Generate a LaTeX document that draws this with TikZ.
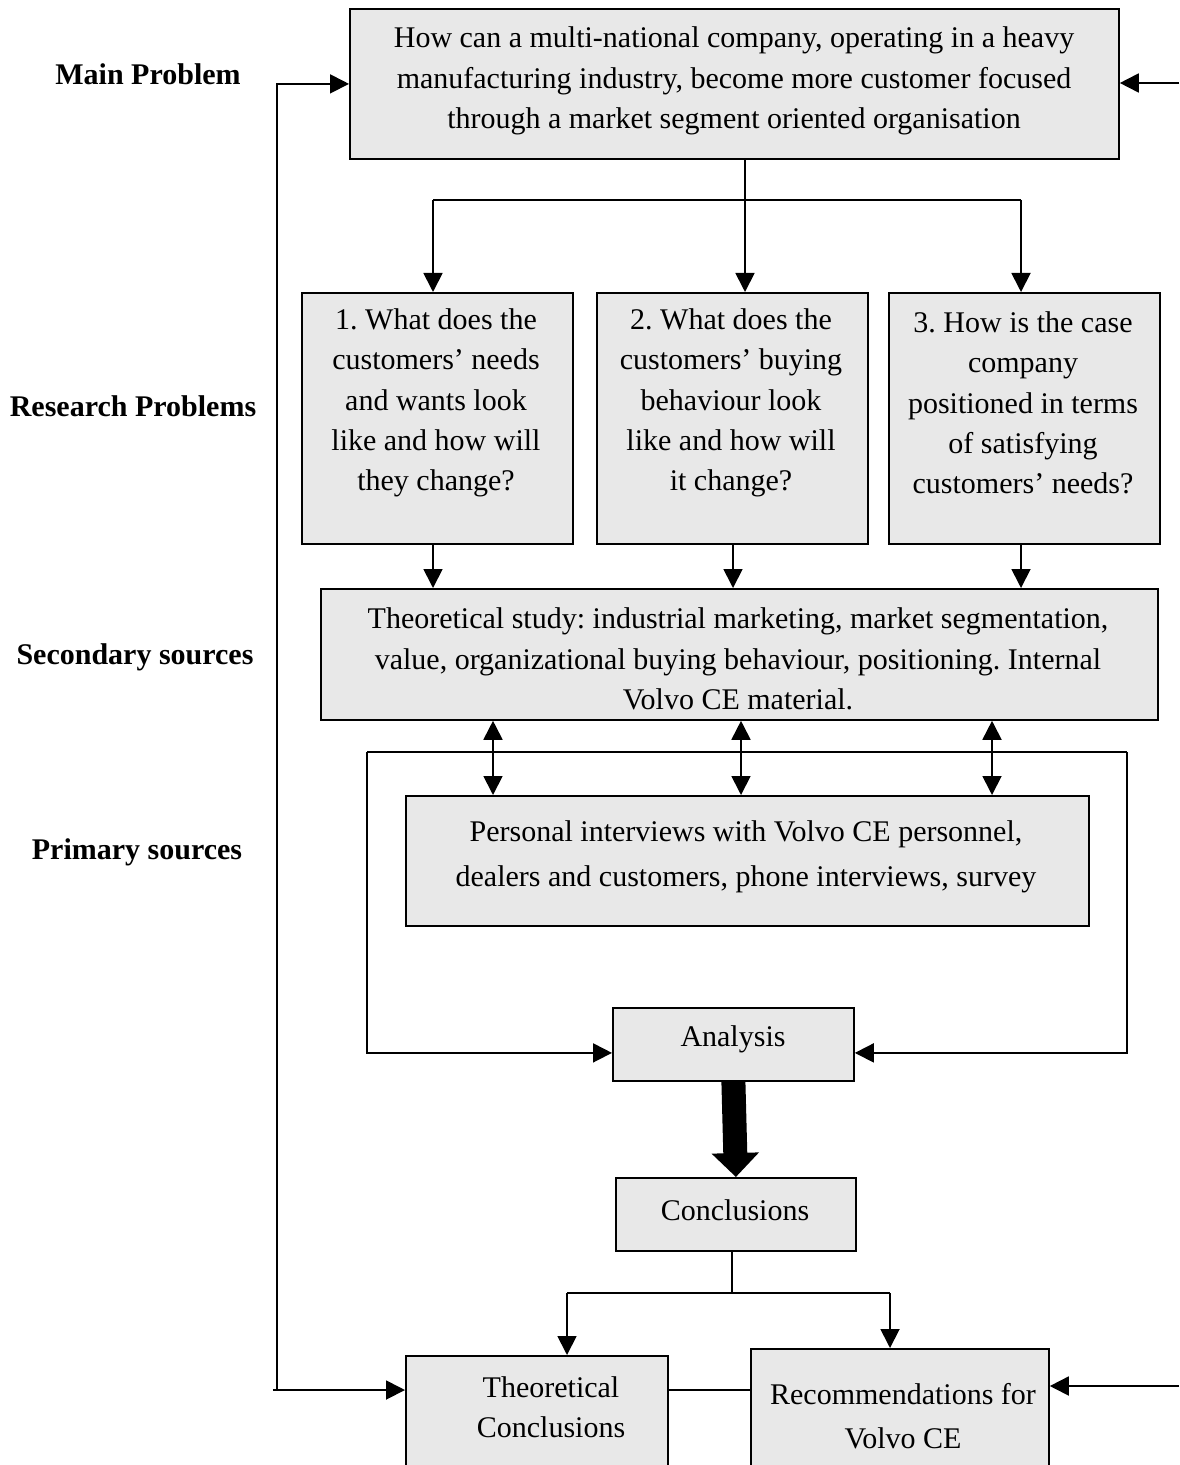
\documentclass[tikz,border=0pt]{standalone}
\usepackage{fontspec}
\setmainfont{Liberation Serif}
\usetikzlibrary{arrows.meta}
\definecolor{boxfill}{RGB}{232,232,232}
\frenchspacing
\begin{document}
\begin{tikzpicture}[x=0.5pt,y=-0.5pt,
  box/.style={draw, line width=0.9pt, fill=boxfill, inner sep=0pt, anchor=north west},
  txt/.style={align=center, inner sep=0pt, font=\fontsize{15pt}{20.1pt}\selectfont},
  side/.style={inner sep=0pt, font=\fontsize{15pt}{20pt}\selectfont\bfseries},
  link/.style={line width=0.9pt},
  arr/.style={line width=0.9pt, -{Triangle[length=9.5pt,width=9.5pt]}},
  darr/.style={line width=0.9pt, {Triangle[length=9.5pt,width=9.5pt]}-{Triangle[length=9.5pt,width=9.5pt]}},
  bigarr/.style={line width=12pt, -{Triangle[length=12pt,width=23pt]}}]
\useasboundingbox (0,0) rectangle (1179,1465);
\clip (0,0) rectangle (1179,1465);

% side labels
\node[side] (lmain) at (148,74) {Main Problem};
\node[side] (lres)  at (133,406) {Research Problems};
\node[side] (lsec)  at (135,657) {Secondary sources};
\node[side] (lpri)  at (137,852) {Primary sources};

% boxes
\node[box, minimum width=384.5pt, minimum height=75pt] (mp) at (349,8) {};
\node[txt] (mpt) at (734,81) {How can a multi-national company, operating in a heavy\\manufacturing industry, become more customer focused\\through a market segment oriented organisation};

\node[box, minimum width=135.5pt, minimum height=125.5pt] (r1) at (301,292) {};
\node[box, minimum width=135.5pt, minimum height=125.5pt] (r2) at (596,292) {};
\node[box, minimum width=135.5pt, minimum height=125.5pt] (r3) at (888,292) {};
\node[txt] (r1t) at (436,403) {1. What does the\\customers’ needs\\and wants look\\like and how will\\they change?};
\node[txt] (r2t) at (731,403) {2. What does the\\customers’ buying\\behaviour look\\like and how will\\it change?};
\node[txt] (r3t) at (1023,403) {3. How is the case\\company\\positioned in terms\\of satisfying\\customers’ needs?};

\node[box, minimum width=418.5pt, minimum height=65.5pt] (sec) at (320,588) {};
\node[txt] (sect) at (738,659) {Theoretical study: industrial marketing, market segmentation,\\value, organizational buying behaviour, positioning. Internal\\Volvo CE material.};

\node[box, minimum width=341.5pt, minimum height=65pt] (pri) at (405,795) {};
\node[txt, font=\fontsize{15pt}{22.5pt}\selectfont] (prit) at (746,857) {Personal interviews with Volvo CE personnel,\\dealers and customers, phone interviews, survey};

\node[box, minimum width=120.5pt, minimum height=36.5pt] (an) at (612,1007) {};
\node[txt] (ant) at (733,1039) {Analysis};

\node[box, minimum width=120pt, minimum height=36.5pt] (co) at (615,1177) {};
\node[txt] (cot) at (735,1210) {Conclusions};

\node[box, minimum width=131pt, minimum height=65pt] (tc) at (405,1355) {};
\node[txt] (tct) at (551,1407) {Theoretical\\Conclusions};
\node[box, minimum width=149pt, minimum height=65pt] (rc) at (750,1348) {};
\node[txt, font=\fontsize{15pt}{22pt}\selectfont] (rct) at (903,1416) {Recommendations for\\Volvo CE};

% routing points
\coordinate (split) at (745,200);
\coordinate (d1) at (433,200);
\coordinate (d3) at (1021,200);
\coordinate (e2) at (733,0);
\coordinate (b1) at (493,0);
\coordinate (b2) at (741,0);
\coordinate (b3) at (992,0);
\coordinate (lpL) at (367,752);
\coordinate (lpR) at (1127,752);
\coordinate (csplit) at (732,1293);
\coordinate (cl) at (567,1293);
\coordinate (cr) at (890,1293);
\coordinate (fb) at (277,1390);
\coordinate (rtop) at (1179,83);
\coordinate (rbot) at (1179,1386);

% main problem to research problems
\draw[link] (mp.south -| split) -- (split);
\draw[link] (d1) -- (d3);
\draw[arr] (split) -- (split |- r2.north);
\draw[arr] (d1) -- (d1 |- r1.north);
\draw[arr] (d3) -- (d3 |- r3.north);

% research problems to secondary sources
\draw[arr] (r1.south -| d1) -- (sec.north -| d1);
\draw[arr] (r2.south -| e2) -- (sec.north -| e2);
\draw[arr] (r3.south -| d3) -- (sec.north -| d3);

% secondary <-> primary
\draw[darr] (sec.south -| b1) -- (pri.north -| b1);
\draw[darr] (sec.south -| b2) -- (pri.north -| b2);
\draw[darr] (sec.south -| b3) -- (pri.north -| b3);

% loop into analysis
\draw[link] (lpL) -- (lpR);
\draw[arr] (lpL) |- ([yshift=-4.25pt]an.west);
\draw[arr] (lpR) |- ([yshift=-4.25pt]an.east);

% analysis to conclusions
\draw[bigarr] (an.south) -- (co.north);

% conclusions to final boxes
\draw[link] (co.south -| csplit) -- (csplit);
\draw[link] (cl) -- (cr);
\draw[arr] (cl) -- (cl |- tc.north);
\draw[arr] (cr) -- (cr |- rc.north);
\draw[link] (tc.east |- fb) -- (rc.west |- fb);

% feedback lines
\draw[arr] (fb) |- (mp.west);
\draw[arr] ([xshift=-2pt]fb) -- (fb -| tc.west);
\draw[arr] (rtop) -- (rtop -| mp.east);
\draw[arr] (rbot) -- (rbot -| rc.east);
\end{tikzpicture}
\end{document}
